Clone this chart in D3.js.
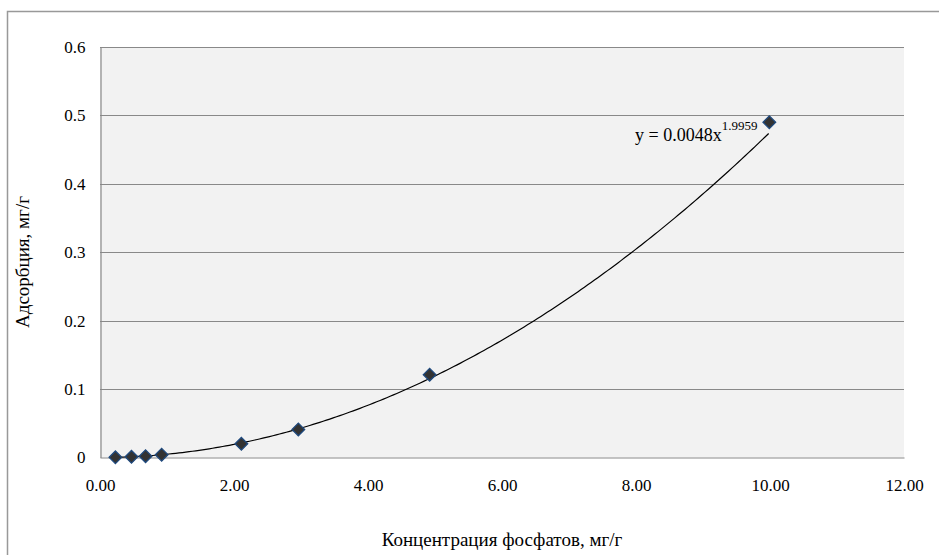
<!DOCTYPE html>
<html><head><meta charset="utf-8">
<script src="https://cdn.jsdelivr.net/npm/d3@7"></script>
<style>body{margin:0;background:#fff}svg{display:block}svg text{font-family:"Liberation Serif","Times New Roman",serif !important}</style>
</head><body><svg id="c" width="939" height="555"></svg>
<script>
const concentration = [0.23, 0.47, 0.68, 0.92, 2.11, 2.96, 4.92, 9.99];
const adsorption = [0.0003, 0.001, 0.002, 0.004, 0.020, 0.041, 0.121, 0.490];
const xTicks = [0, 2, 4, 6, 8, 10, 12];
const yTicks = [0, 0.1, 0.2, 0.3, 0.4, 0.5, 0.6];
const fitA = 0.0048, fitB = 1.9959;
const xTitle = "Концентрация фосфатов, мг/г";
const yTitle = "Адсорбция, мг/г";

const svg = d3.select("#c");
const m = {l:100, r:904, t:47, b:457.5};
const x = d3.scaleLinear().domain([0,12]).range([m.l, m.r]);
const y = d3.scaleLinear().domain([0,0.6]).range([m.b, m.t]);

svg.append("rect").attr("x",7.5).attr("y",11.5).attr("width",940).attr("height",560)
  .attr("fill","#fff").attr("stroke","#999").attr("stroke-width",1.5);
svg.append("rect").attr("x",m.l).attr("y",m.t).attr("width",m.r-m.l).attr("height",m.b-m.t).attr("fill","#f2f2f2");

// gridlines
svg.append("g").selectAll("line").data(yTicks.filter(d=>d>0)).join("line")
  .attr("x1",m.l).attr("x2",m.r).attr("y1",d=>Math.round(y(d))+0.5).attr("y2",d=>Math.round(y(d))+0.5)
  .attr("stroke","#898989").attr("stroke-width",1);

// axes
const yAxis = svg.append("g").attr("transform",`translate(${m.l+0.5},0)`)
  .call(d3.axisLeft(y).tickValues(yTicks).tickFormat(d=>d===0?"0":d3.format(".1f")(d)).tickSize(0).tickPadding(15));
const xAxis = svg.append("g").attr("transform",`translate(0,${m.b})`)
  .call(d3.axisBottom(x).tickValues(xTicks).tickFormat(d3.format(".2f")).tickSize(0).tickPadding(21));
[yAxis,xAxis].forEach(g=>{
  g.attr("font-family",null);
  g.select(".domain").attr("stroke","#898989").attr("stroke-width",1.2);
  g.selectAll("text").attr("font-size",17).attr("fill","#000");
});

// trend line
const xs = d3.range(concentration[0], concentration[concentration.length-1]+0.001, 0.05);
svg.append("path").datum(xs)
  .attr("d", d3.line().x(d=>x(d)).y(d=>y(fitA*Math.pow(d,fitB))))
  .attr("fill","none").attr("stroke","#000").attr("stroke-width",1.2);

// markers
const sym = d3.symbol().type(d3.symbolSquare).size(80);
svg.append("g").selectAll("path").data(concentration.map((c,i)=>[c,adsorption[i]])).join("path")
  .attr("d", sym)
  .attr("transform", d=>`translate(${x(d[0])},${y(d[1])}) rotate(45)`)
  .attr("fill","#333333").attr("stroke","#1f497d").attr("stroke-width",1.3);

// equation
const eq = svg.append("text").attr("x",635).attr("y",140.5).attr("font-size",18).attr("fill","#000");
eq.append("tspan").text("y = " + fitA + "x");
eq.append("tspan").attr("dy",-11).attr("font-size",13).text(fitB);

// titles
svg.append("text").attr("x",(m.l+m.r)/2).attr("y",545.5).attr("text-anchor","middle")
  .attr("font-size",19).text(xTitle);
svg.append("text").attr("transform",`translate(29,262) rotate(-90)`).attr("text-anchor","middle")
  .attr("font-size",19).text(yTitle);
</script></body></html>
